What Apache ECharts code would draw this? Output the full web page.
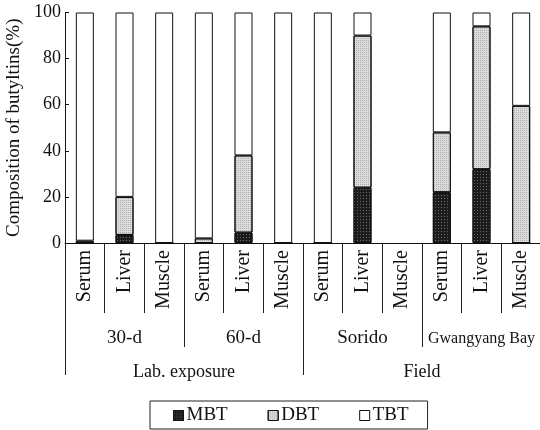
<!DOCTYPE html>
<html>
<head>
<meta charset="utf-8">
<script src="https://cdn.jsdelivr.net/npm/echarts@6/dist/echarts.min.js"></script>
<style>
html,body{margin:0;padding:0;background:#fff;}
#chart{width:540px;height:430px;}
</style>
</head>
<body>
<div id="chart"></div>
<script>
const categories = ['Serum','Liver','Muscle','Serum','Liver','Muscle','Serum','Liver','Muscle','Serum','Liver','Muscle'];
const groups = ['30-d','60-d','Sorido','Gwangyang Bay'];
const superGroups = ['Lab. exposure','Field'];
const MBT = [0, 3.5, 0, 0, 4.5, 0, 0, 24, null, 22, 32, 0];
const DBT = [1, 16.5, 0, 2, 33.5, 0, 0, 66, null, 26, 62, 59.5];
const TBT = [99, 80, 100, 98, 62, 100, 100, 10, null, 52, 6, 40.5];
const yTicks = {min: 0, max: 100, interval: 20};

const FONT = 'Liberation Serif';
const chart = echarts.init(document.getElementById('chart'), null, {renderer: 'canvas'});

function barSeries(name, data, color, decal) {
  return {
    name: name, type: 'bar', stack: 'total', data: data,
    xAxisIndex: 0, yAxisIndex: 0, barWidth: 18,
    itemStyle: {color: color, borderColor: '#111', borderWidth: 1, decal: decal},
    emphasis: {disabled: true}
  };
}

chart.setOption({
  animation: false,
  backgroundColor: '#fff',
  textStyle: {fontFamily: FONT},
  grid: {left: 65, right: -1, top: 12.5, bottom: 187, containLabel: false, outerBoundsMode: 'none'},
  legend: {
    bottom: 1, left: 150,
    data: ['MBT','DBT','TBT'],
    icon: 'rect',
    itemWidth: 10, itemHeight: 10, itemGap: 40,
    borderColor: '#222', borderWidth: 1, padding: [5, 19, 4, 23],
    textStyle: {fontFamily: FONT, fontSize: 19, color: '#111', padding: [0,0,0,-2]},
    itemStyle: {borderColor: '#111', borderWidth: 1}
  },
  xAxis: [
    {
      type: 'category', data: categories, position: 'bottom',
      axisLine: {show: true, lineStyle: {color: '#111', width: 1}},
      axisTick: {show: true, interval: 0, length: 70, lineStyle: {color: '#222'}},
      axisLabel: {interval: 0, rotate: 90, margin: 7, fontFamily: FONT, fontSize: 20, color: '#111'}
    },
    {
      type: 'category', data: groups, position: 'bottom',
      axisLine: {show: false},
      axisTick: {show: true, interval: 0, length: 104, lineStyle: {color: '#222'}},
      axisLabel: {
        interval: 0, margin: 86, fontFamily: FONT, fontSize: 19, color: '#111',
        formatter: function (v) { return v.length > 8 ? '{s|' + v + '}' : v; },
        rich: {s: {fontFamily: FONT, fontSize: 16, color: '#111', padding: [2, 0, 0, 0]}}
      }
    },
    {
      type: 'category', data: superGroups, position: 'bottom',
      axisLine: {show: false},
      axisTick: {show: true, interval: 0, length: 132, lineStyle: {color: '#222'}},
      axisLabel: {interval: 0, margin: 120, fontFamily: FONT, fontSize: 18, color: '#111'}
    }
  ],
  yAxis: {
    type: 'value', min: yTicks.min, max: yTicks.max, interval: yTicks.interval,
    name: 'Composition of butyltins(%)', nameLocation: 'middle', nameGap: 40,
    nameTextStyle: {fontFamily: FONT, fontSize: 19, color: '#111'},
    axisLine: {show: true, lineStyle: {color: '#111', width: 1}},
    axisTick: {show: true, inside: true, length: 4, lineStyle: {color: '#111'}},
    axisLabel: {fontFamily: FONT, fontSize: 18, color: '#111', margin: 4},
    splitLine: {show: false}
  },
  series: [
    barSeries('MBT', MBT, '#1c1c1c', {symbol: 'rect', symbolSize: 1, dashArrayX: [1, 2], dashArrayY: [1, 2], color: 'rgba(255,255,255,0.35)'}),
    barSeries('DBT', DBT, '#dcdcdc', {symbol: 'rect', symbolSize: 1, dashArrayX: [1, 1], dashArrayY: [1, 1], color: 'rgba(90,90,90,0.35)'}),
    barSeries('TBT', TBT, '#ffffff', null)
  ]
});
</script>
</body>
</html>
